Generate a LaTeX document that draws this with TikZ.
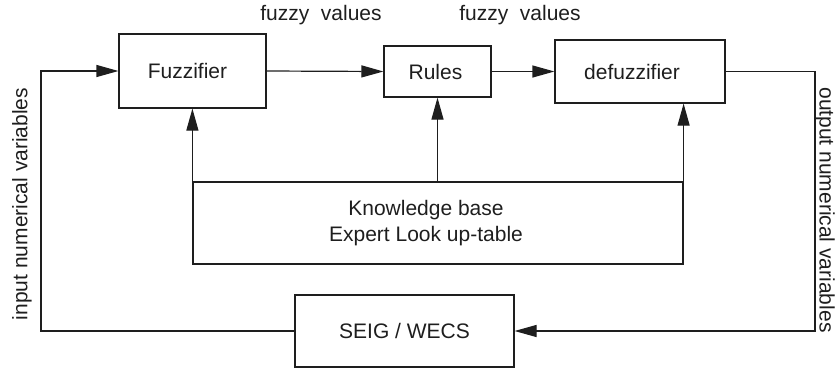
\documentclass[tikz,border=0pt]{standalone}
\usepackage{fontspec}
\setmainfont{Liberation Sans}
\usetikzlibrary{arrows.meta}
\definecolor{ink}{RGB}{30,30,30}
\begin{document}
\begin{tikzpicture}[x=1pt,y=-1pt,
  every node/.style={font=\fontsize{21}{26}\selectfont, text=ink},
  blockbox/.style={draw=ink, line width=1.2pt, inner sep=0pt, minimum width=#1},
  txt/.style={inner sep=0pt},
  conn/.style={draw=ink, line width=1.2pt},
  arr/.style={conn, -{Triangle[length=22pt,width=12pt]}}
]
\useasboundingbox (0,0) rectangle (836,370);

% main blocks
\node[blockbox=147pt, minimum height=74pt] (fz) at (192.5,71) {};
\node[blockbox=107pt, minimum height=51pt] (ru) at (437.5,71.5) {};
\node[blockbox=170pt, minimum height=63pt] (dz) at (640,71.5) {};
\node[blockbox=490pt, minimum height=82pt] (kb) at (438,223) {};
\node[blockbox=219pt, minimum height=72pt] (sw) at (404.5,331) {};

% block texts
\node[txt] (fzt) at (187.5,71) {Fuzzifier};
\node[txt] (rut) at (435.5,71.5) {Rules};
\node[txt] (dzt) at (632,71.5) {defuzzifier};
\node[txt, align=center] (kbt) at (426,223) {Knowledge base\\Expert Look up-table};
\node[txt] (swt) at (404.5,331) {SEIG / WECS};

% side and top labels
\node[txt] (fv1) at (321,15) {fuzzy\ \ values};
\node[txt] (fv2) at (520,15) {fuzzy\ \ values};
\node[txt, rotate=90] (inl) at (22,204) {input numerical variables};
\node[txt, rotate=-90] (outl) at (825,210) {output numerical variables};

% loop corners
\coordinate (cl) at (41,0);
\coordinate (cr) at (815,0);

% forward chain
\draw[arr] (fz.east) -- (ru.west);
\draw[arr] (ru.east) -- (dz.west);

% feedback loops through the plant
\draw[arr] (sw.west) -- (sw.west -| cl) -- (fz.west -| cl) -- (fz.west);
\draw[arr] (dz.east) -- (dz.east -| cr) -- (sw.east -| cr) -- (sw.east);

% knowledge base feeds
\draw[arr] (kb.north west) -- (kb.north west |- fz.south);
\draw[arr] (kb.north -| ru.south) -- (ru.south);
\draw[arr] (kb.north east) -- (kb.north east |- dz.south);
\end{tikzpicture}
\end{document}
